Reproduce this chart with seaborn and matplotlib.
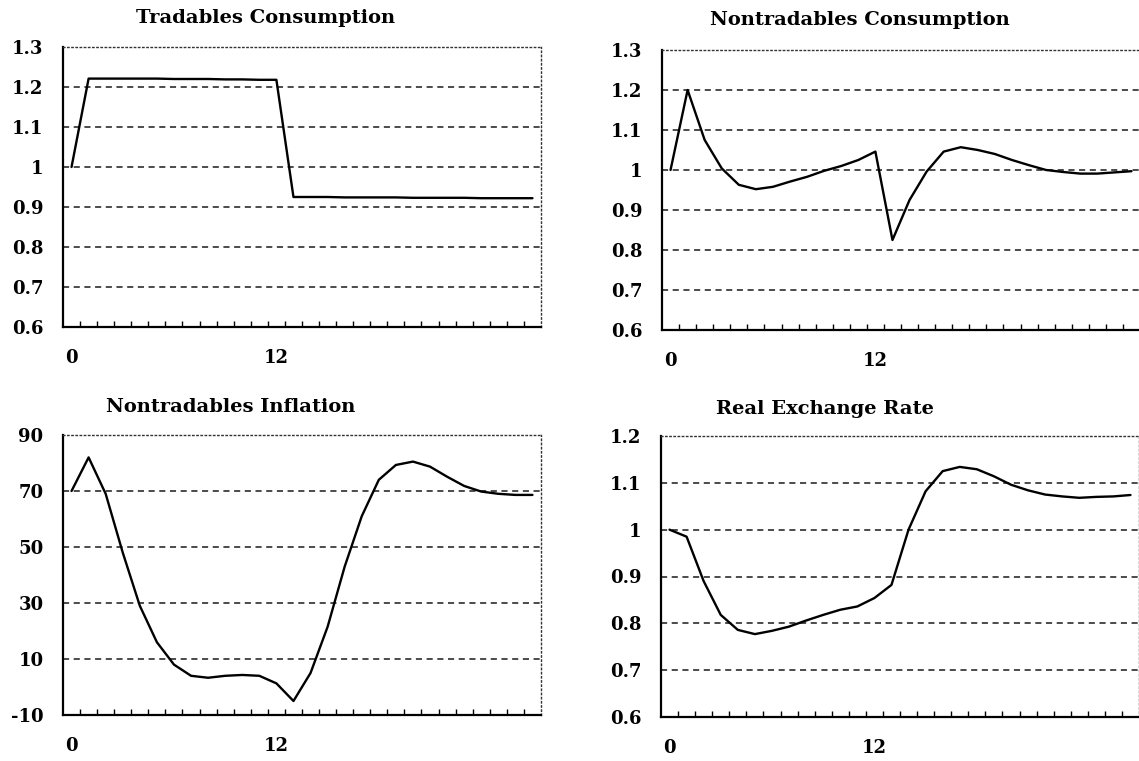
import numpy as np
import matplotlib
matplotlib.use("Agg")
import matplotlib.pyplot as plt
import seaborn as sns

# quarters after the shock
periods = list(range(28))

tradables_cons = [1.0, 1.221, 1.221, 1.221, 1.221, 1.221, 1.220, 1.220, 1.220,
                  1.219, 1.219, 1.218, 1.218, 0.925, 0.925, 0.925, 0.924, 0.924,
                  0.924, 0.924, 0.923, 0.923, 0.923, 0.923, 0.922, 0.922, 0.922,
                  0.922]

nontradables_cons = [1.0, 1.2, 1.075, 1.004, 0.963, 0.952, 0.958, 0.971, 0.983,
                     0.998, 1.01, 1.025, 1.046, 0.825, 0.925, 0.996, 1.046, 1.057,
                     1.05, 1.04, 1.025, 1.012, 1.0, 0.995, 0.991, 0.991, 0.994,
                     0.997]

nontradables_infl = [70, 82, 69, 48, 29, 16, 8, 4, 3.3, 4, 4.3, 4, 1.3, -5, 5,
                     21.5, 43, 61, 74, 79.3, 80.5, 78.7, 75.1, 71.8, 69.8, 69,
                     68.6, 68.6]

real_exchange = [1.0, 0.985, 0.89, 0.818, 0.786, 0.777, 0.784, 0.793, 0.806,
                 0.818, 0.829, 0.836, 0.854, 0.882, 1.0, 1.082, 1.125, 1.134,
                 1.129, 1.114, 1.096, 1.084, 1.075, 1.071, 1.068, 1.07, 1.071,
                 1.074]

titles = ["Tradables Consumption", "Nontradables Consumption",
          "Nontradables Inflation", "Real Exchange Rate"]
xtick_labels = [0, 12]

sns.set_theme(style="white")
plt.rcParams["font.family"] = "DejaVu Serif"
plt.rcParams["font.weight"] = "bold"
plt.rcParams["axes.unicode_minus"] = False
plt.rcParams["text.color"] = "black"
plt.rcParams["xtick.color"] = "black"
plt.rcParams["ytick.color"] = "black"

W, H = 1139, 761
fig = plt.figure(figsize=(W / 100, H / 100), dpi=100)


def px_rect(left, top, right, bottom):
    return [left / W, 1 - bottom / H, (right - left) / W, (bottom - top) / H]


panels = [
    (tradables_cons, (0.6, 1.3), np.round(np.arange(0.6, 1.31, 0.1), 1),
     px_rect(63, 47, 541, 327), (266, 18)),
    (nontradables_cons, (0.6, 1.3), np.round(np.arange(0.6, 1.31, 0.1), 1),
     px_rect(662, 50, 1140, 330), (860, 20)),
    (nontradables_infl, (-10, 90), np.arange(-10, 91, 20),
     px_rect(63, 435, 541, 715), (231, 407)),
    (real_exchange, (0.6, 1.2), np.round(np.arange(0.6, 1.21, 0.1), 1),
     px_rect(661, 436, 1139, 717), (825, 409)),
]

for title, (vals, ylim, yticks, rect, tpos) in zip(titles, panels):
    ax = fig.add_axes(rect)
    ax.set_facecolor("white")

    # dashed horizontal grid at interior ticks
    for t in yticks[1:-1]:
        ax.axhline(t, color="#1a1a1a", lw=1.1, ls=(0, (4, 3)), zorder=1)

    sns.lineplot(x=periods, y=vals, ax=ax, color="black", linewidth=1.7, zorder=3)

    ax.set_xlim(-0.5, 27.5)
    ax.set_ylim(*ylim)
    ax.set_yticks(yticks)
    ax.yaxis.set_major_formatter(plt.FuncFormatter(lambda v, p: f"{v:g}"))
    ax.set_xticks(xtick_labels)
    ax.set_xticklabels([str(v) for v in xtick_labels])
    ax.set_xticks(np.arange(0.5, 27, 1), minor=True)

    ax.tick_params(axis="x", which="major", length=0, pad=16, labelsize=13)
    ax.tick_params(axis="x", which="minor", bottom=True, direction="in",
                   length=4, width=1, color="black")
    ax.tick_params(axis="y", length=0, pad=14, labelsize=13)
    ax.set_xlabel("")
    ax.set_ylabel("")

    for side in ["left", "bottom"]:
        ax.spines[side].set_visible(True)
        ax.spines[side].set_color("black")
        ax.spines[side].set_linewidth(1.6)
    for side in ["top", "right"]:
        ax.spines[side].set_visible(True)
        ax.spines[side].set_color("#333333")
        ax.spines[side].set_linewidth(1)
        ax.spines[side].set_linestyle((0, (1, 2)))

    fig.text(tpos[0] / W, 1 - tpos[1] / H, title, ha="center", va="center",
             fontsize=14, fontweight="bold")

plt.savefig("out.png", dpi=100)
